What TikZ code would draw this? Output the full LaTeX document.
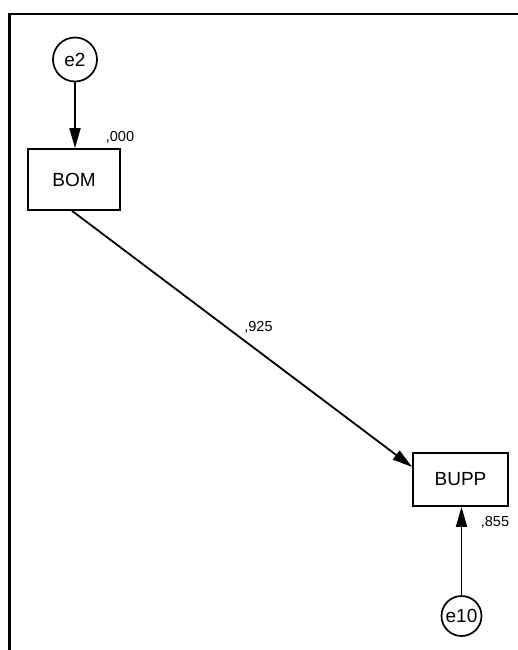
\documentclass[tikz,border=0pt]{standalone}
\usepackage{fontspec}
\setmainfont{Liberation Sans}
\usetikzlibrary{arrows.meta,calc}
\begin{document}
\begin{tikzpicture}[x=1pt,y=-1pt,
  obs/.style={draw,line width=1.7pt,rectangle,inner sep=0pt,font=\fontsize{19}{21}\selectfont},
  err/.style={draw,line width=1.7pt,circle,inner sep=0pt,font=\fontsize{19}{21}\selectfont},
  val/.style={inner sep=0pt,font=\fontsize{14.5}{16}\selectfont},
  path1/.style={line width=1.8pt,-{Triangle[length=20pt,width=11pt]}},
  frame/.style={line width=2.4pt}]
\useasboundingbox (0,0) rectangle (518,650);
\coordinate (ftop) at (518,14);
\coordinate (fcorner) at (9.5,14);
\coordinate (fbot) at (9.5,650);
\draw[frame] (ftop) -- (fcorner) -- (fbot);
\node[err,minimum size=44pt] (e2) at (75,59.5) {e2};
\node[obs,minimum width=92pt,minimum height=61pt] (BOM) at (74,179.5) {BOM};
\node[obs,minimum width=95pt,minimum height=53pt] (BUPP) at (460.5,479.5) {BUPP};
\node[err,minimum size=40pt] (e10) at (461.5,616) {e10};
\node[val] (v1) at (120,137.5) {,000};
\node[val] (v2) at (495,522.5) {,855};
\node[val] (v3) at (258.5,327) {,925};
\draw[path1] (e2.south) -- (e2.south |- BOM.north);
\draw[path1] (e10.north) -- (e10.north |- BUPP.south);
\draw[path1] ($(BOM.south)+(-2,0)$) -- ($(BUPP.west)+(0,-12.5)$);
\end{tikzpicture}
\end{document}
